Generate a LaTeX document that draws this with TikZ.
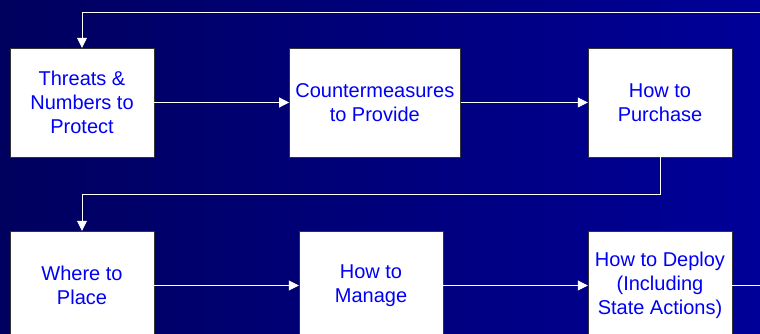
\documentclass[tikz,border=0pt]{standalone}
\usepackage{fontspec}
\setmainfont{Liberation Sans}
\usetikzlibrary{arrows.meta}
\definecolor{navyleft}{RGB}{0,0,94}
\definecolor{navyright}{RGB}{0,0,152}
\definecolor{boxtext}{RGB}{0,0,245}
\tikzset{
  stepbox/.style={draw=black!80,fill=white,text=boxtext,align=center,
    minimum height=109pt,inner sep=2pt,font=\fontsize{20}{24}\selectfont},
  flow/.style={draw=white,line width=0.8pt,-{Triangle[width=10pt,length=10pt]}}
}
\begin{document}
\begin{tikzpicture}[x=1pt,y=1pt]
\useasboundingbox (0,0) rectangle (760,334);
\clip (0,0) rectangle (760,334);
\shade[left color=navyleft,right color=navyright] (0,0) rectangle (760,334);
% top row
\node[stepbox,minimum width=144pt] (threats) at (82,231.5) {Threats \&\\Numbers to\\Protect};
\node[stepbox,minimum width=171pt] (counter) at (374.8,231.5) {Countermeasures\\to Provide};
\node[stepbox,minimum width=144pt] (purchase) at (660,231.5) {How to\\Purchase};
% bottom row
\node[stepbox,minimum width=144pt] (place) at (82,48.5) {Where to\\Place};
\node[stepbox,minimum width=144pt] (manage) at (371,48.5) {How to\\Manage};
\node[stepbox,minimum width=144pt] (deploy) at (660,48.5) {How to Deploy\\(Including\\State Actions)};
% loose ends at the right edge
\coordinate (loopin) at (760,322);
\coordinate (loopout) at (760,48.5);
\draw[flow] (loopin) -| (threats.north);
\draw[flow] (threats) -- (counter);
\draw[flow] (counter) -- (purchase);
\draw[flow] (purchase.south) -- ++(0,-37) -| (place.north);
\draw[flow] (place) -- (manage);
\draw[flow] (manage) -- (deploy);
\draw[draw=white,line width=0.8pt] (deploy) -- (loopout);
\end{tikzpicture}
\end{document}
